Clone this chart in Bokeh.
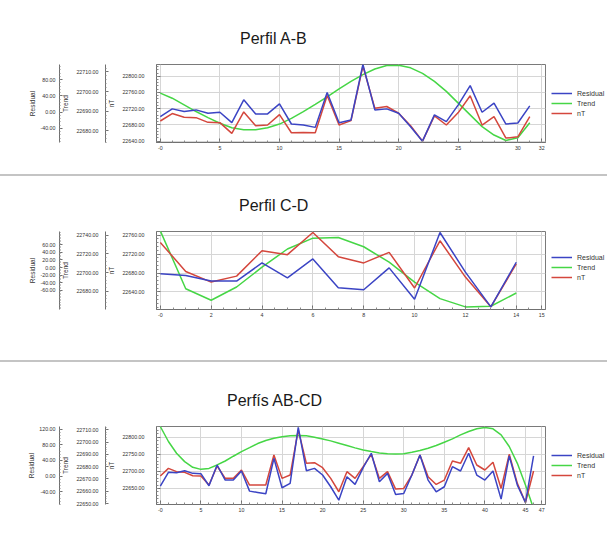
import numpy as np
from bokeh.plotting import figure
from bokeh.models import Range1d, LinearAxis, FixedTicker, PrintfTickFormatter, Legend, LegendItem
from bokeh.layouts import column, row
from bokeh.embed import file_html
from bokeh.resources import INLINE

FONT = "Liberation Sans"
C_RES = "#3b44c4"
C_TRD = "#46d646"
C_NT = "#d4473d"

# ---------------- Perfil A-B ----------------
ab_x = list(range(32))
ab_residual = [-11.0, 8.1, 1.5, 5.6, -2.7, -0.2, -25.9, 30.5, -4.4, -4.4, 20.5, -29.2, -31.7, -37.5, 48.7, -25.9,
               -19.3, 117.5, 5.6, 8.1, -2.7, -35.9, -71.5, -6.8, -23.4, 18.0, 65.3, -0.2, 22.2, -29.2, -26.7, 15.5]
ab_trend = [22699.2, 22696.6, 22693.2, 22689.8, 22686.7, 22683.8, 22681.5, 22680.5, 22680.5, 22681.5, 22683.4,
            22686.3, 22689.8, 22693.5, 22697.3, 22701.4, 22705.2, 22708.6, 22711.5, 22713.3, 22713.4, 22712.1,
            22709.3, 22705.2, 22700.1, 22694.1, 22688.1, 22682.1, 22677.8, 22675.0, 22676.4, 22684.1]
ab_nt = [22689.7, 22708.0, 22698.9, 22698.0, 22686.4, 22685.6, 22659.1, 22712.1, 22678.1, 22679.8, 22705.5,
         22660.7, 22661.6, 22660.7, 22752.7, 22679.8, 22690.6, 22824.9, 22721.2, 22725.4, 22708.8, 22678.1,
         22640.0, 22702.2, 22679.8, 22710.5, 22751.9, 22679.8, 22700.5, 22647.5, 22650.8, 22700.5]
ab_x_ticks = [0, 5, 10, 15, 20, 25, 30, 32]
ab_nt_ticks = [22640, 22680, 22720, 22760, 22800]
ab_trend_ticks = [22680, 22690, 22700, 22710]
ab_res_ticks = [-40, 0, 40, 80, 120]
ab_x_range = (-0.32, 32.32)
ab_nt_range = (22636.7, 22829.0)
ab_trend_range = (22674.0, 22713.8)
ab_res_range = (-74.8, 117.5)

# ---------------- Perfil C-D ----------------
cd_x = list(range(15))
cd_residual = [-16.5, -20.9, -35.7, -35.7, 12.2, -27.0, 22.6, -53.0, -58.3, -0.9, -83.5, 92.2, -12.2, -103.5, 13.9]
cd_trend = [22744.6, 22682.8, 22670.5, 22684.6, 22705.8, 22725.2, 22736.8, 22737.5, 22727.6, 22711.1, 22689.9,
            22672.2, 22663.4, 22664.1, 22678.2]
cd_nt = [22744.7, 22683.3, 22660.9, 22673.5, 22727.2, 22718.8, 22765.6, 22714.6, 22701.4, 22723.7, 22648.4,
         22748.1, 22671.4, 22608.6, 22699.3]
cd_x_ticks = [0, 2, 4, 6, 8, 10, 12, 14, 15]
cd_nt_ticks = [22640, 22680, 22720, 22760]
cd_trend_ticks = [22680, 22700, 22720, 22740]
cd_res_ticks = [-60, -40, -20, 0, 20, 40, 60]
cd_x_range = (-0.15, 15.15)
cd_nt_range = (22603.0, 22767.7)
cd_trend_range = (22660.6, 22743.9)
cd_res_range = (-110.4, 94.8)

# ---------------- Perfís AB-CD ----------------
abcd_x = list(range(47))
abcd_residual = [-25.5, 9.6, 8.7, 13.9, 7.0, 6.2, -24.7, 28.4, -10.1, -10.1, 13.0, -38.4, -41.8, -45.2, 45.5,
                 -29.8, -18.7, 124.3, 13.9, 19.8, 2.7, -27.2, -61.5, -1.6, -21.2, 21.6, 58.4, -14.4, 7.0, -46.9,
                 -44.4, 2.7, 54.1, -10.1, -40.1, -27.2, 24.1, 13.0, 58.4, 2.7, -10.1, 13.0, -58.9, 51.5, -23.0,
                 -67.5, 51.5]
abcd_trend = [22712.7, 22700.5, 22690.9, 22684.1, 22679.5, 22677.8, 22678.6, 22681.4, 22684.6, 22688.5, 22692.3,
              22695.5, 22698.8, 22701.3, 22703.2, 22704.3, 22705.1, 22705.4, 22705.1, 22704.0, 22702.6, 22701.0,
              22699.1, 22697.2, 22695.3, 22693.6, 22692.3, 22691.2, 22690.6, 22690.4, 22690.6, 22691.7, 22693.1,
              22695.0, 22697.2, 22699.9, 22702.6, 22705.9, 22708.6, 22710.8, 22711.9, 22710.8, 22705.9, 22696.4,
              22682.7, 22665.0, 22645.9]
abcd_nt = [22686.3, 22708.9, 22699.1, 22697.1, 22687.3, 22686.3, 22659.9, 22715.7, 22679.5, 22679.5, 22704.0,
           22659.9, 22659.9, 22659.9, 22748.1, 22679.5, 22689.3, 22821.6, 22723.6, 22725.5, 22710.8, 22679.5,
           22640.3, 22699.1, 22679.5, 22713.8, 22750.0, 22679.5, 22699.1, 22648.1, 22650.1, 22689.3, 22748.1,
           22684.4, 22661.8, 22674.6, 22730.4, 22723.6, 22769.6, 22718.7, 22704.0, 22726.5, 22650.1, 22750.0,
           22664.8, 22608.9, 22701.0]
abcd_x_ticks = [0, 5, 10, 15, 20, 25, 30, 35, 40, 45, 47]
abcd_nt_ticks = [22650, 22700, 22750, 22800]
abcd_trend_ticks = [22650, 22660, 22670, 22680, 22690, 22700, 22710]
abcd_res_ticks = [-40, 0, 40, 80, 120]
abcd_x_range = (-0.47, 47.47)
abcd_nt_range = (22603.0, 22831.4)
abcd_trend_range = (22649.2, 22712.7)
abcd_res_range = (-72.6, 126.8)

series_labels = ["Residual", "Trend", "nT"]

FRAME_W = 389
FRAME_H = 78
LEFT = 156
RIGHT = 3
LEG_W = 59


def minor(rng, step):
    lo = np.ceil(rng[0] / step) * step
    return [float(v) for v in np.arange(lo, rng[1] + 1e-9, step)]


def style_axis(ax, standoff, label_standoff, tick_in=4, minor_in=2):
    ax.axis_line_color = "#707070"
    ax.major_tick_line_color = "#707070"
    ax.minor_tick_line_color = "#8a8a8a"
    ax.major_tick_in = tick_in
    ax.major_tick_out = 0
    ax.minor_tick_in = minor_in
    ax.minor_tick_out = 0
    ax.major_label_standoff = standoff
    ax.major_label_text_font = FONT
    ax.major_label_text_font_size = "5.3px"
    ax.major_label_text_color = "#333333"
    ax.axis_label_text_font = FONT
    ax.axis_label_text_font_size = "6.5px"
    ax.axis_label_text_font_style = "normal"
    ax.axis_label_text_color = "#333333"
    ax.axis_label_standoff = label_standoff


def make_panel(title, title_offset, x, res, trd, nt,
               x_range, x_ticks, x_step,
               nt_range, nt_ticks, nt_step,
               trd_range, trd_ticks, trd_step,
               res_range, res_ticks, res_step,
               border_top, border_bottom, shadow):
    height = border_top + FRAME_H + border_bottom
    p = figure(frame_width=FRAME_W, frame_height=FRAME_H, output_backend="svg", toolbar_location=None,
               x_range=Range1d(*x_range), y_range=Range1d(*nt_range),
               min_border_left=LEFT, min_border_right=RIGHT,
               min_border_top=border_top, min_border_bottom=border_bottom, title=title)
    p.extra_y_ranges = {"trend": Range1d(*trd_range), "resid": Range1d(*res_range)}
    p.background_fill_color = "white"
    p.border_fill_color = "white"
    p.outline_line_color = "#7a7a7a"
    p.outline_line_width = 1

    p.title.text_font = FONT
    p.title.text_font_size = "16px"
    p.title.text_font_style = "normal"
    p.title.text_color = "#1a1a1a"
    p.title.align = "left"
    p.title.offset = title_offset
    p.title.standoff = 36
    p.title.vertical_align = "bottom"

    x_minor = minor(x_range, x_step)
    xt = FixedTicker(ticks=x_ticks, minor_ticks=x_minor)
    p.xaxis.ticker = xt
    p.xgrid.ticker = xt
    p.xaxis.major_label_overrides = {0: "-0"}
    style_axis(p.xaxis[0], 3, 0)

    nt_minor = minor(nt_range, nt_step)
    yt = FixedTicker(ticks=nt_ticks, minor_ticks=nt_minor)
    p.yaxis.ticker = yt
    p.ygrid.ticker = yt
    p.yaxis.formatter = PrintfTickFormatter(format="%.2f")
    p.yaxis.axis_label = series_labels[2]
    style_axis(p.yaxis[0], 12, 4)

    p.grid.grid_line_color = "#d6d6d6"
    p.grid.grid_line_width = 1

    ax_t = LinearAxis(y_range_name="trend",
                      ticker=FixedTicker(ticks=trd_ticks, minor_ticks=minor(trd_range, trd_step)),
                      formatter=PrintfTickFormatter(format="%.2f"), axis_label=series_labels[1])
    style_axis(ax_t, 7, 4, tick_in=3, minor_in=1)
    p.add_layout(ax_t, "left")
    ax_r = LinearAxis(y_range_name="resid",
                      ticker=FixedTicker(ticks=res_ticks, minor_ticks=minor(res_range, res_step)),
                      formatter=PrintfTickFormatter(format="%.2f"), axis_label=series_labels[0])
    style_axis(ax_r, 4, 1, tick_in=3, minor_in=1)
    p.add_layout(ax_r, "left")

    p.line(x, trd, y_range_name="trend", line_color=C_TRD, line_width=1.5)
    p.line(x, nt, line_color=C_NT, line_width=1.5)
    p.line(x, res, y_range_name="resid", line_color=C_RES, line_width=1.5)

    # legend: a narrow companion canvas to the right (its frame lines up with the chart's frame),
    # so that the key is not clipped by the chart frame. Its series lie far outside its own ranges.
    lf = figure(width=LEG_W, height=height, output_backend="svg", toolbar_location=None,
                x_range=Range1d(-1e6, -1e6 + 1), y_range=Range1d(-1e6, -1e6 + 1), min_border=0,
                x_axis_location=None, y_axis_location=None, outline_line_color=None)
    lf.grid.visible = False
    lf.background_fill_color = "white"
    lf.border_fill_color = "white"
    k_res = lf.line(x, res, line_color=C_RES, line_width=1.5)
    k_trd = lf.line(x, trd, line_color=C_TRD, line_width=1.5)
    k_nt = lf.line(x, nt, line_color=C_NT, line_width=1.5)
    legend = Legend(items=[LegendItem(label=series_labels[0], renderers=[k_res]),
                           LegendItem(label=series_labels[1], renderers=[k_trd]),
                           LegendItem(label=series_labels[2], renderers=[k_nt])],
                    location=(3, (FRAME_H - 30) // 2), orientation="vertical",
                    border_line_color=None, background_fill_alpha=0,
                    padding=0, margin=0, spacing=0,
                    glyph_width=21, glyph_height=10, label_height=10, label_standoff=5,
                    label_text_font=FONT, label_text_font_size="7px", label_text_color="#333333")
    lf.add_layout(legend)

    return row(p, lf, styles={"box-shadow": shadow})


r1 = make_panel("Perfil A-B", 83.5, ab_x, ab_residual, ab_trend, ab_nt,
                ab_x_range, ab_x_ticks, 1,
                ab_nt_range, ab_nt_ticks, 8,
                ab_trend_range, ab_trend_ticks, 2,
                ab_res_range, ab_res_ticks, 8,
                64, 34, "-2px 0 0 0 #505050, 0 -2px 0 0 #505050")

r2 = make_panel("Perfil C-D", 82.5, cd_x, cd_residual, cd_trend, cd_nt,
                cd_x_range, cd_x_ticks, 0.5,
                cd_nt_range, cd_nt_ticks, 8,
                cd_trend_range, cd_trend_ticks, 4,
                cd_res_range, cd_res_ticks, 4,
                52, 53, "-2px 0 0 0 #505050, 0 -2px 0 0 #c4c4c4")

r3 = make_panel("Perfís AB-CD", 70.5, abcd_x, abcd_residual, abcd_trend, abcd_nt,
                abcd_x_range, abcd_x_ticks, 1,
                abcd_nt_range, abcd_nt_ticks, 10,
                abcd_trend_range, abcd_trend_ticks, 2,
                abcd_res_range, abcd_res_ticks, 8,
                64, 32, "-2px 0 0 0 #505050, 0 -2px 0 0 #c4c4c4")

layout = column(r1, r2, r3)

with open("out.html", "w") as f:
    f.write(file_html(layout, INLINE))
